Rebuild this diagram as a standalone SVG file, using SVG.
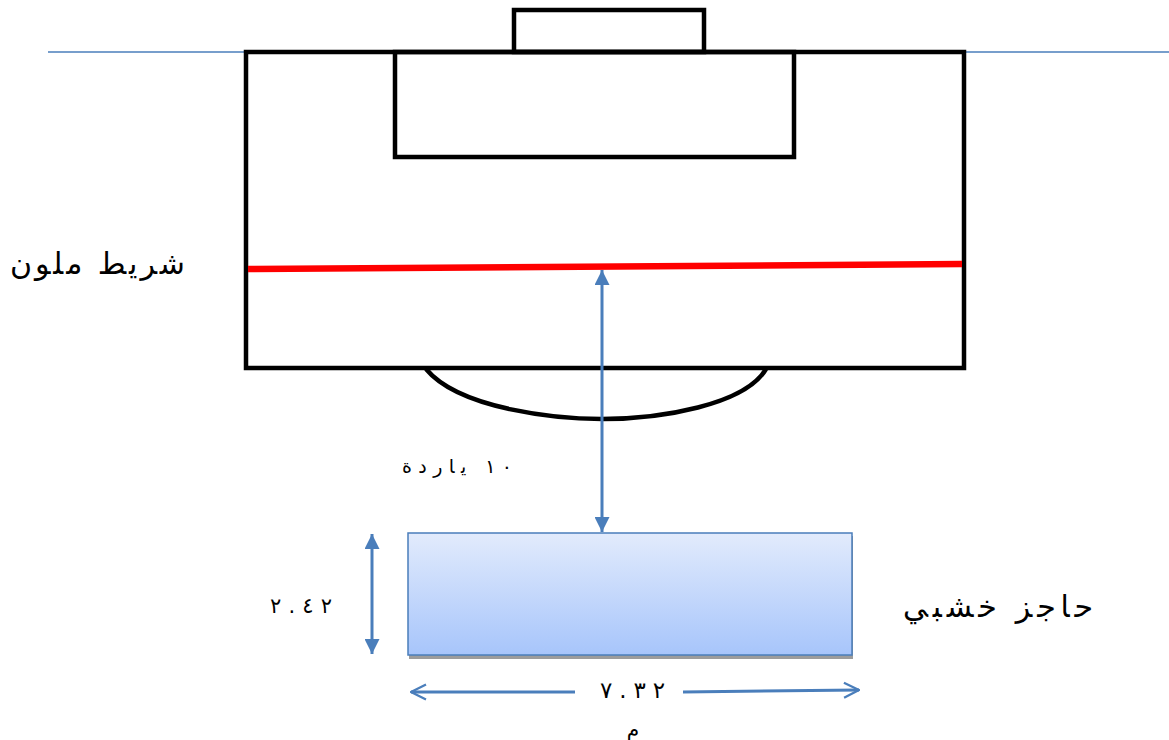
<svg xmlns="http://www.w3.org/2000/svg" width="1169" height="740" viewBox="0 0 1169 740">
<style>
.blk{fill:none;stroke:#000;stroke-width:4.5}
.blue{stroke:#4a7ebb;stroke-width:3;fill:none}
.t{font-family:"DejaVu Sans","Noto Sans",sans-serif;fill:#000}
</style>
<defs>
<linearGradient id="g" x1="0" y1="0" x2="0" y2="1">
<stop offset="0" stop-color="#e2ebfc"/>
<stop offset="1" stop-color="#a7c5fb"/>
</linearGradient>
<marker id="tri" viewBox="0 0 10 10" refX="10" refY="5" markerWidth="5" markerHeight="5" orient="auto-start-reverse" markerUnits="strokeWidth">
<path d="M0,0 L10,5 L0,10 z" fill="#4a7ebb"/>
</marker>
<marker id="chev" viewBox="0 0 12 12" refX="11" refY="6" markerWidth="6" markerHeight="6" orient="auto" markerUnits="strokeWidth">
<path d="M1,1 L11,6 L1,11" fill="none" stroke="#4a7ebb" stroke-width="1.5"/>
</marker>
</defs>
<rect width="1169" height="740" fill="#fff"/>
<g id="ground">
<line x1="48" y1="52" x2="246" y2="52" stroke="#4a7ebb" stroke-width="1.5"/>
<line x1="964" y1="52" x2="1169" y2="52" stroke="#4a7ebb" stroke-width="1.5"/>
</g>
<g id="pitch">
<rect class="blk" x="246" y="52" width="718" height="316"/>
</g>
<g id="goal">
<rect class="blk" x="514" y="10" width="190" height="42"/>
</g>
<g id="box">
<rect class="blk" x="395" y="52" width="399" height="105"/>
</g>
<g id="arc">
<path class="blk" d="M426,369 C460,410 560,419 602,419 C660,419 745,405 766,369"/>
</g>
<g id="stripe">
<line x1="248" y1="269" x2="962" y2="264" stroke="#ff0000" stroke-width="6.5"/>
<text class="t" x="10" y="274" font-size="30" textLength="175" lengthAdjust="spacing">شريط ملون</text>
</g>
<g id="barrier">
<rect x="409" y="536" width="444" height="123" fill="#9c9c9c"/>
<rect x="408" y="533" width="444" height="122" fill="url(#g)" stroke="#4a7ebb" stroke-width="1.5"/>
<text class="t" x="903" y="617" font-size="30" textLength="190" lengthAdjust="spacing">حاجز خشبي</text>
</g>
<g id="connectors">
<line class="blue" x1="602" y1="270" x2="602" y2="532" marker-start="url(#tri)" marker-end="url(#tri)"/>
<line class="blue" x1="372" y1="534" x2="372" y2="654" marker-start="url(#tri)" marker-end="url(#tri)"/>
<line class="blue" x1="575" y1="692" x2="411" y2="692" marker-end="url(#chev)"/>
<line class="blue" x1="683" y1="692" x2="859" y2="690" marker-end="url(#chev)"/>
</g>
<g id="labels">
<text class="t" x="402" y="473" font-size="19" textLength="110" lengthAdjust="spacing">١٠ ياردة</text>
<text class="t" x="270" y="613" font-size="21" textLength="62" lengthAdjust="spacing">٢.٤٢</text>
<text class="t" x="600" y="698" font-size="23" textLength="65" lengthAdjust="spacing">٧.٣٢</text>
<text class="t" x="633" y="736" font-size="20" text-anchor="middle">م</text>
</g>
</svg>
